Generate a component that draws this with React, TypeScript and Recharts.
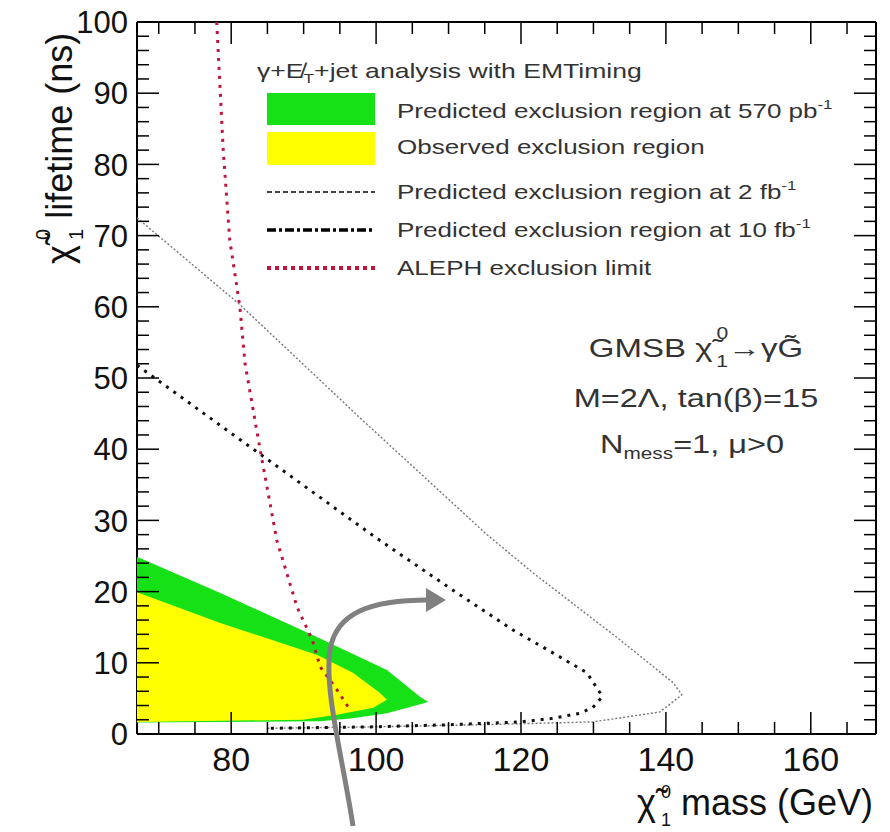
import { ScatterChart, Scatter, XAxis, YAxis } from 'recharts';

// axis ticks
const massLabels = [80, 100, 120, 140, 160];
const massTicks = [70, 75, 80, 85, 90, 95, 100, 105, 110, 115, 120, 125, 130, 135, 140, 145, 150, 155, 160, 165];
const lifeLabels = [0, 10, 20, 30, 40, 50, 60, 70, 80, 90, 100];
const lifeTicks = [
  0, 2, 4, 6, 8, 10, 12, 14, 16, 18, 20, 22, 24, 26, 28, 30, 32, 34, 36, 38, 40, 42, 44, 46, 48, 50,
  52, 54, 56, 58, 60, 62, 64, 66, 68, 70, 72, 74, 76, 78, 80, 82, 84, 86, 88, 90, 92, 94, 96, 98, 100,
];

// predicted exclusion at 570 pb-1 (green contour)
const greenMass = [67, 78.5, 91.9, 101.5, 106.1, 107.2, 104.7, 101.5, 96.8, 92.3, 67];
const greenLife = [24.9, 19.8, 13.6, 9.0, 5.2, 4.5, 3.8, 2.9, 2.2, 1.8, 1.6];

// observed exclusion (yellow contour)
const yellowMass = [67, 78.5, 91.9, 96.8, 100.5, 101.5, 99.6, 94.6, 89.9, 67];
const yellowLife = [19.9, 15.6, 11.1, 8.6, 5.8, 4.8, 3.7, 2.7, 2.0, 1.7];

// predicted exclusion, inner dotted black curve
const innerMass = [67, 84.0, 100.5, 110.6, 118.9, 124.4, 129.1, 130.9, 131.2, 129.9, 128.1, 124.4, 119.9, 110.2, 99.2, 85];
const innerLife = [51.8, 39.3, 27.2, 20.2, 14.6, 11.4, 8.6, 5.8, 5.2, 3.7, 2.9, 2.2, 1.7, 1.3, 1.0, 0.8];

// predicted exclusion, outer thin grey curve
const outerMass = [67, 81.2, 98.2, 115.3, 121.7, 133.7, 141.0, 142.2, 139.2, 134.6, 129.9, 114.3, 99.2, 85];
const outerLife = [72.5, 60.3, 44.0, 28.0, 22.6, 13.2, 7.2, 5.5, 3.1, 2.4, 1.7, 1.3, 1.0, 0.8];

// ALEPH limit
const alephMass = [78.0, 78.9, 79.8, 81.2, 81.9, 84.0, 86.3, 89.1, 91.2, 92.3, 94.6, 96.4];
const alephLife = [100, 82, 69.4, 60, 52.1, 39.9, 27.2, 17.8, 13.2, 9.4, 6.2, 3.4];

const pts = (m: number[], l: number[]) => m.map((mass, i) => ({ mass, life: l[i] }));

const FONT = '"Liberation Sans", Arial, sans-serif';
const noDot = () => <g />;

const fillShape = (color: string) => (props: any) => {
  const p = props.points || [];
  if (!p.length) return <g />;
  const d = p.map((q: any, i: number) => `${i ? 'L' : 'M'}${q.x},${q.y}`).join(' ') + ' Z';
  return <path d={d} fill={color} stroke="none" />;
};

const BottomTick = ({ x, y, payload }: any) => {
  const major = massLabels.includes(payload.value);
  return (
    <g>
      <line x1={x} x2={x} y1={y} y2={y - (major ? 22 : 12)} stroke="#000" strokeWidth={1.5} />
      {major && (
        <text x={x} y={y + 37} textAnchor="middle" fontSize={34} fontFamily={FONT} fill="#111">
          {payload.value}
        </text>
      )}
    </g>
  );
};

const TopTick = ({ x, y, payload }: any) => {
  const major = massLabels.includes(payload.value);
  return <line x1={x} x2={x} y1={y} y2={y + (major ? 22 : 12)} stroke="#000" strokeWidth={1.5} />;
};

const LeftTick = ({ x, y, payload }: any) => {
  const major = lifeLabels.includes(payload.value);
  return (
    <g>
      <line x1={x} x2={x + (major ? 22 : 12)} y1={y} y2={y} stroke="#000" strokeWidth={1.5} />
      {major && (
        <text x={x - 9} y={y} dy="0.36em" textAnchor="end" fontSize={31} fontFamily={FONT} fill="#111">
          {payload.value}
        </text>
      )}
    </g>
  );
};

const RightTick = ({ x, y, payload }: any) => {
  const major = lifeLabels.includes(payload.value);
  return <line x1={x} x2={x - (major ? 22 : 12)} y1={y} y2={y} stroke="#000" strokeWidth={1.5} />;
};

// the scanned figure has wide, stretched lettering
const Wide = ({ x, y, sx = 1.3, anchor = 'start', size = 20, children }: any) => (
  <g transform={`translate(${x},${y}) scale(${sx},1)`}>
    <text x={0} y={0} textAnchor={anchor} fontSize={size} fontFamily={FONT} fill="#333">
      {children}
    </text>
  </g>
);

function Overlay() {
  return (
    <svg width={890} height={832} style={{ position: 'absolute', left: 0, top: 0, pointerEvents: 'none' }}>
      {/* legend */}
      <Wide x={257} y={78} sx={1.33}>
        γ+E̸<tspan dy={5} fontSize={13}>T</tspan>
        <tspan dy={-5}>+jet analysis with EMTiming</tspan>
      </Wide>
      <rect x={267} y={93} width={108} height={32} fill="#16e016" />
      <rect x={267} y={132} width={108} height={33} fill="#ffff00" />
      <line x1={267} x2={375} y1={192} y2={192} stroke="#000" strokeWidth={1.5} strokeDasharray="5 3" />
      <line x1={267} x2={375} y1={230} y2={230} stroke="#000" strokeWidth={3.5} strokeDasharray="9 3 3 3" />
      <line x1={267} x2={375} y1={268} y2={268} stroke="#c0143c" strokeWidth={4} strokeDasharray="4 4" />
      <Wide x={397} y={118}>
        Predicted exclusion region at 570 pb<tspan dy={-9} fontSize={13}>-1</tspan>
      </Wide>
      <Wide x={397} y={154}>Observed exclusion region</Wide>
      <Wide x={397} y={199}>
        Predicted exclusion region at 2 fb<tspan dy={-9} fontSize={13}>-1</tspan>
      </Wide>
      <Wide x={397} y={237}>
        Predicted exclusion region at 10 fb<tspan dy={-9} fontSize={13}>-1</tspan>
      </Wide>
      <Wide x={397} y={275}>ALEPH exclusion limit</Wide>

      {/* model text */}
      <Wide x={696} y={357} size={25} anchor="middle" sx={1.32}>
        GMSB χ̃<tspan dx={3} dy={-18} fontSize={16}>0</tspan>
        <tspan dx={-9} dy={28} fontSize={16}>1</tspan>
        <tspan dy={-10}>→γG̃</tspan>
      </Wide>
      <Wide x={696} y={407} size={25} anchor="middle" sx={1.3}>
        M=2Λ, tan(β)=15
      </Wide>
      <Wide x={692} y={453} size={25} anchor="middle" sx={1.3}>
        N<tspan dy={6} fontSize={16}>mess</tspan>
        <tspan dy={-6}>=1, μ&gt;0</tspan>
      </Wide>

      {/* axis titles */}
      <text x={873} y={815} fontSize={36} textAnchor="end" fontFamily={FONT} fill="#111">
        χ̃<tspan dx={5} dy={-17} fontSize={18}>0</tspan>
        <tspan dx={-10} dy={28} fontSize={18}>1</tspan>
        <tspan dy={-11}> mass (GeV)</tspan>
      </text>
      <g transform="translate(72,264) rotate(-90)">
        <text x={0} y={0} fontSize={36} fontFamily={FONT} fill="#111">
          χ̃<tspan dx={5} dy={-22} fontSize={20}>0</tspan>
          <tspan dx={-11} dy={33} fontSize={20}>1</tspan>
          <tspan dy={-11}> lifetime (ns)</tspan>
        </text>
      </g>

      {/* annotation arrow */}
      <path d="M353,826 C343,760 324,690 330,650 C336,612 372,600 428,600" fill="none" stroke="#808080" strokeWidth={5} />
      <polygon points="426,588 446,600 426,612" fill="#808080" />
    </svg>
  );
}

export default function App() {
  return (
    <div style={{ position: 'absolute', left: 0, top: 0, width: 890, height: 832, background: '#fff' }}>
      <ScatterChart width={890} height={832} margin={{ top: 21, right: 13, bottom: 97, left: 0 }}>
        <XAxis
          xAxisId="b"
          dataKey="mass"
          type="number"
          domain={[67, 169]}
          allowDataOverflow
          ticks={massTicks}
          height={1}
          tickSize={0}
          tickMargin={0}
          tickLine={false}
          tick={<BottomTick />}
          axisLine={{ stroke: '#000', strokeWidth: 2 }}
          interval={0}
        />
        <XAxis
          xAxisId="t"
          orientation="top"
          dataKey="mass"
          type="number"
          domain={[67, 169]}
          allowDataOverflow
          ticks={massTicks}
          height={1}
          tickSize={0}
          tickMargin={0}
          tickLine={false}
          tick={<TopTick />}
          axisLine={{ stroke: '#000', strokeWidth: 2 }}
          interval={0}
        />
        <YAxis
          yAxisId="l"
          dataKey="life"
          type="number"
          domain={[0, 100]}
          allowDataOverflow
          ticks={lifeTicks}
          width={137}
          tickSize={0}
          tickMargin={0}
          tickLine={false}
          tick={<LeftTick />}
          axisLine={{ stroke: '#000', strokeWidth: 2 }}
          interval={0}
        />
        <YAxis
          yAxisId="r"
          orientation="right"
          dataKey="life"
          type="number"
          domain={[0, 100]}
          allowDataOverflow
          ticks={lifeTicks}
          width={1}
          tickSize={0}
          tickMargin={0}
          tickLine={false}
          tick={<RightTick />}
          axisLine={{ stroke: '#000', strokeWidth: 2 }}
          interval={0}
        />
        <Scatter
          xAxisId="b"
          yAxisId="l"
          data={pts(greenMass, greenLife)}
          shape={noDot}
          line={fillShape('#16e016')}
          isAnimationActive={false}
        />
        <Scatter
          xAxisId="b"
          yAxisId="l"
          data={pts(yellowMass, yellowLife)}
          shape={noDot}
          line={fillShape('#ffff00')}
          isAnimationActive={false}
        />
        <Scatter
          xAxisId="b"
          yAxisId="l"
          data={pts(outerMass, outerLife)}
          shape={noDot}
          line={{ stroke: '#777', strokeWidth: 1.4, strokeDasharray: '2 2' }}
          isAnimationActive={false}
        />
        <Scatter
          xAxisId="b"
          yAxisId="l"
          data={pts(innerMass, innerLife)}
          shape={noDot}
          line={{ stroke: '#111', strokeWidth: 3, strokeDasharray: '3 6' }}
          isAnimationActive={false}
        />
        <Scatter
          xAxisId="b"
          yAxisId="l"
          data={pts(alephMass, alephLife)}
          shape={noDot}
          line={{ stroke: '#c0143c', strokeWidth: 3, strokeDasharray: '3 6' }}
          isAnimationActive={false}
        />
        {/* invisible anchor so the top and right frame axes get a domain */}
        <Scatter
          xAxisId="t"
          yAxisId="r"
          data={pts(greenMass, greenLife)}
          shape={noDot}
          isAnimationActive={false}
        />
      </ScatterChart>
      <Overlay />
    </div>
  );
}
